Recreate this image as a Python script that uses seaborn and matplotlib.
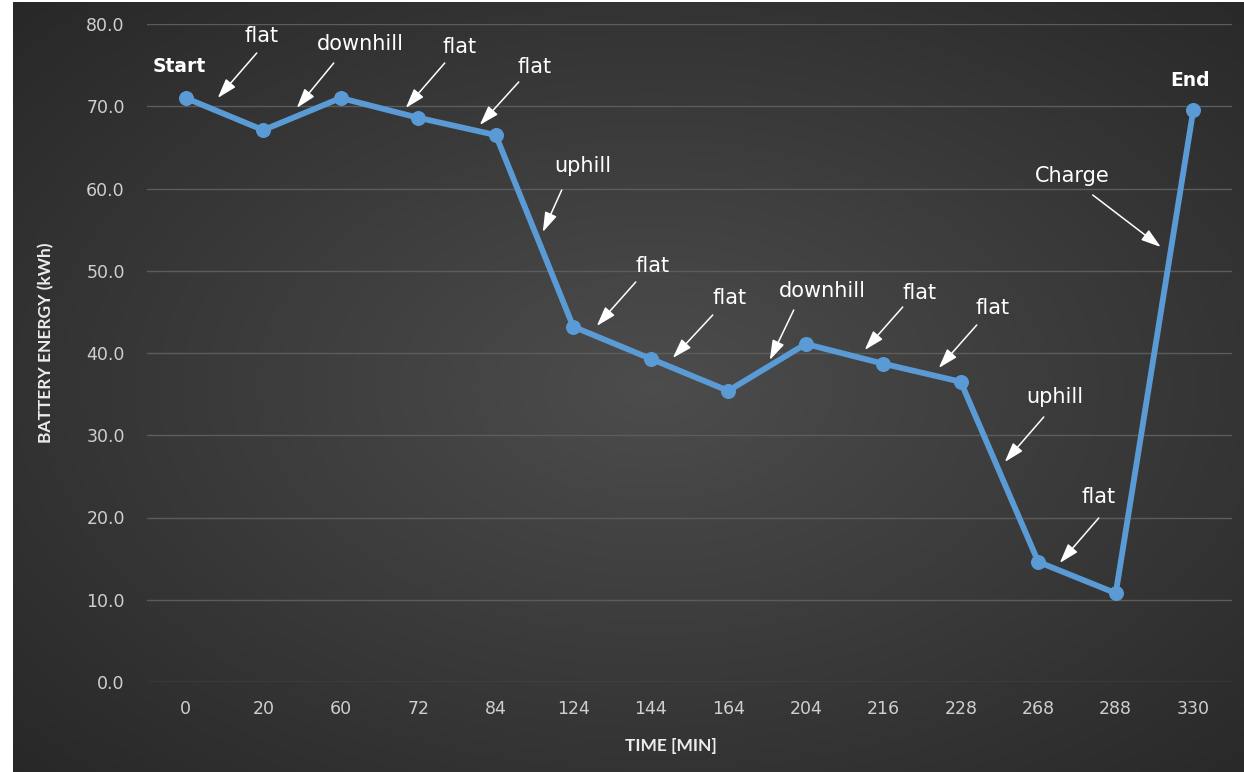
import numpy as np
import pandas as pd
import matplotlib
matplotlib.use("Agg")
import matplotlib.pyplot as plt
import seaborn as sns

# ---- data ----
times = ["0", "20", "60", "72", "84", "124", "144", "164", "204", "216", "228", "268", "288", "330"]
energy = [71.0, 67.1, 71.0, 68.6, 66.5, 43.2, 39.3, 35.4, 41.1, 38.7, 36.5, 14.6, 10.8, 69.5]
yticks = [0, 10, 20, 30, 40, 50, 60, 70, 80]
segment_labels = ["flat", "downhill", "flat", "flat", "uphill", "flat", "flat", "downhill",
                  "flat", "flat", "uphill", "flat", "Charge"]

# ---- styling / layout ----
sns.set_theme(style="dark")
plt.rcParams['font.family'] = ['DejaVu Sans']

W, H, DPI = 1244, 772, 100
fig = plt.figure(figsize=(W / DPI, H / DPI), dpi=DPI)
fig.patch.set_facecolor("white")

# radial gradient background
bg = fig.add_axes([13 / W, 0, 1 - 13 / W, 1 - 2 / H], zorder=0)
yy, xx = np.mgrid[0:1:400j, 0:1:600j]
r = np.sqrt(((xx - 0.52) / 0.75) ** 2 + ((yy - 0.5) / 0.75) ** 2)
r = np.clip(r, 0, 1)
c_in, c_out = np.array([0.30, 0.30, 0.30]), np.array([0.15, 0.15, 0.15])
img = c_in[None, None, :] * (1 - r[..., None]) + c_out[None, None, :] * r[..., None]
bg.imshow(img, aspect="auto", extent=[0, 1, 0, 1])
bg.set_axis_off()

ax = fig.add_axes([147 / W, 1 - 682 / H, (1232 - 147) / W, (682 - 24) / H], zorder=1)
ax.patch.set_alpha(0)

df = pd.DataFrame({"pos": np.arange(len(times)), "energy": energy})
sns.lineplot(data=df, x="pos", y="energy", ax=ax, color="#5b9bd5", linewidth=4.2,
             marker="o", markersize=10, markeredgecolor="#5b9bd5", sort=False, zorder=5)

ax.set_xlim(-0.5, len(times) - 0.5)
ax.set_ylim(0, 80)
ax.set_yticks(yticks)
ax.set_yticklabels([f"{v:.1f}" for v in yticks])
ax.set_xticks(np.arange(len(times)))
ax.set_xticklabels(times)
ax.tick_params(axis="both", colors="#cfcfcf", labelsize=12.5, length=0)
ax.tick_params(axis="y", pad=16)
ax.tick_params(axis="x", pad=13)
ax.grid(axis="y", color="#5c5c5c", linewidth=1)
ax.grid(axis="x", visible=False)
for s in ax.spines.values():
    s.set_visible(False)

lab_font = dict(family=['Lato', 'DejaVu Sans'], color="#ececec", fontsize=12.5, fontweight="bold")
ax.set_xlabel("TIME [MIN]", va="center", **lab_font)
ax.set_ylabel("BATTERY ENERGY (kWh)", va="center", **lab_font)
ax.xaxis.set_label_coords((671 - 147) / 1085, -(746 - 682) / 658)
ax.yaxis.set_label_coords((46 - 147) / 1085, (682 - 343) / 658)

# annotation geometry (pixel -> data)
def px(x, y):
    return ((x - 186) / 77.5, (682 - y) / 8.225)

ann_geom = [
    ((262, 36), (257, 53), (218, 98)),
    ((361, 44), (334, 63), (297, 108)),
    ((460, 47), (445, 63), (406, 108)),
    ((535, 67), (519, 82), (480, 125)),
    ((583, 166), (562, 190), (543, 232)),
    ((653, 266), (636, 282), (597, 326)),
    ((730, 298), (713, 315), (673, 358)),
    ((823, 291), (794, 310), (770, 360)),
    ((920, 293), (903, 307), (865, 350)),
    ((993, 308), (977, 325), (939, 368)),
    ((1055, 397), (1044, 417), (1005, 462)),
    ((1099, 497), (1099, 518), (1060, 563)),
    ((1073, 176), (1093, 195), (1161, 247)),
]
for label, (t, tail, head) in zip(segment_labels, ann_geom):
    tx, ty = px(*t)
    ax.text(tx, ty, label, color="white", fontsize=15, ha="center", va="center", zorder=6)
    ax.annotate("", xy=px(*head), xytext=px(*tail),
                arrowprops=dict(arrowstyle="-|>,head_length=1.0,head_width=0.32",
                                color="white", lw=1.1, shrinkA=0, shrinkB=0), zorder=6)

sx, sy = px(179, 66)
ax.text(sx, sy, "Start", color="white", fontsize=13.5, fontweight="bold", ha="center", va="center")
ex, ey = px(1190, 81)
ax.text(ex, ey, "End", color="white", fontsize=13.5, fontweight="bold", ha="center", va="center")

fig.savefig("out.png", dpi=DPI)
